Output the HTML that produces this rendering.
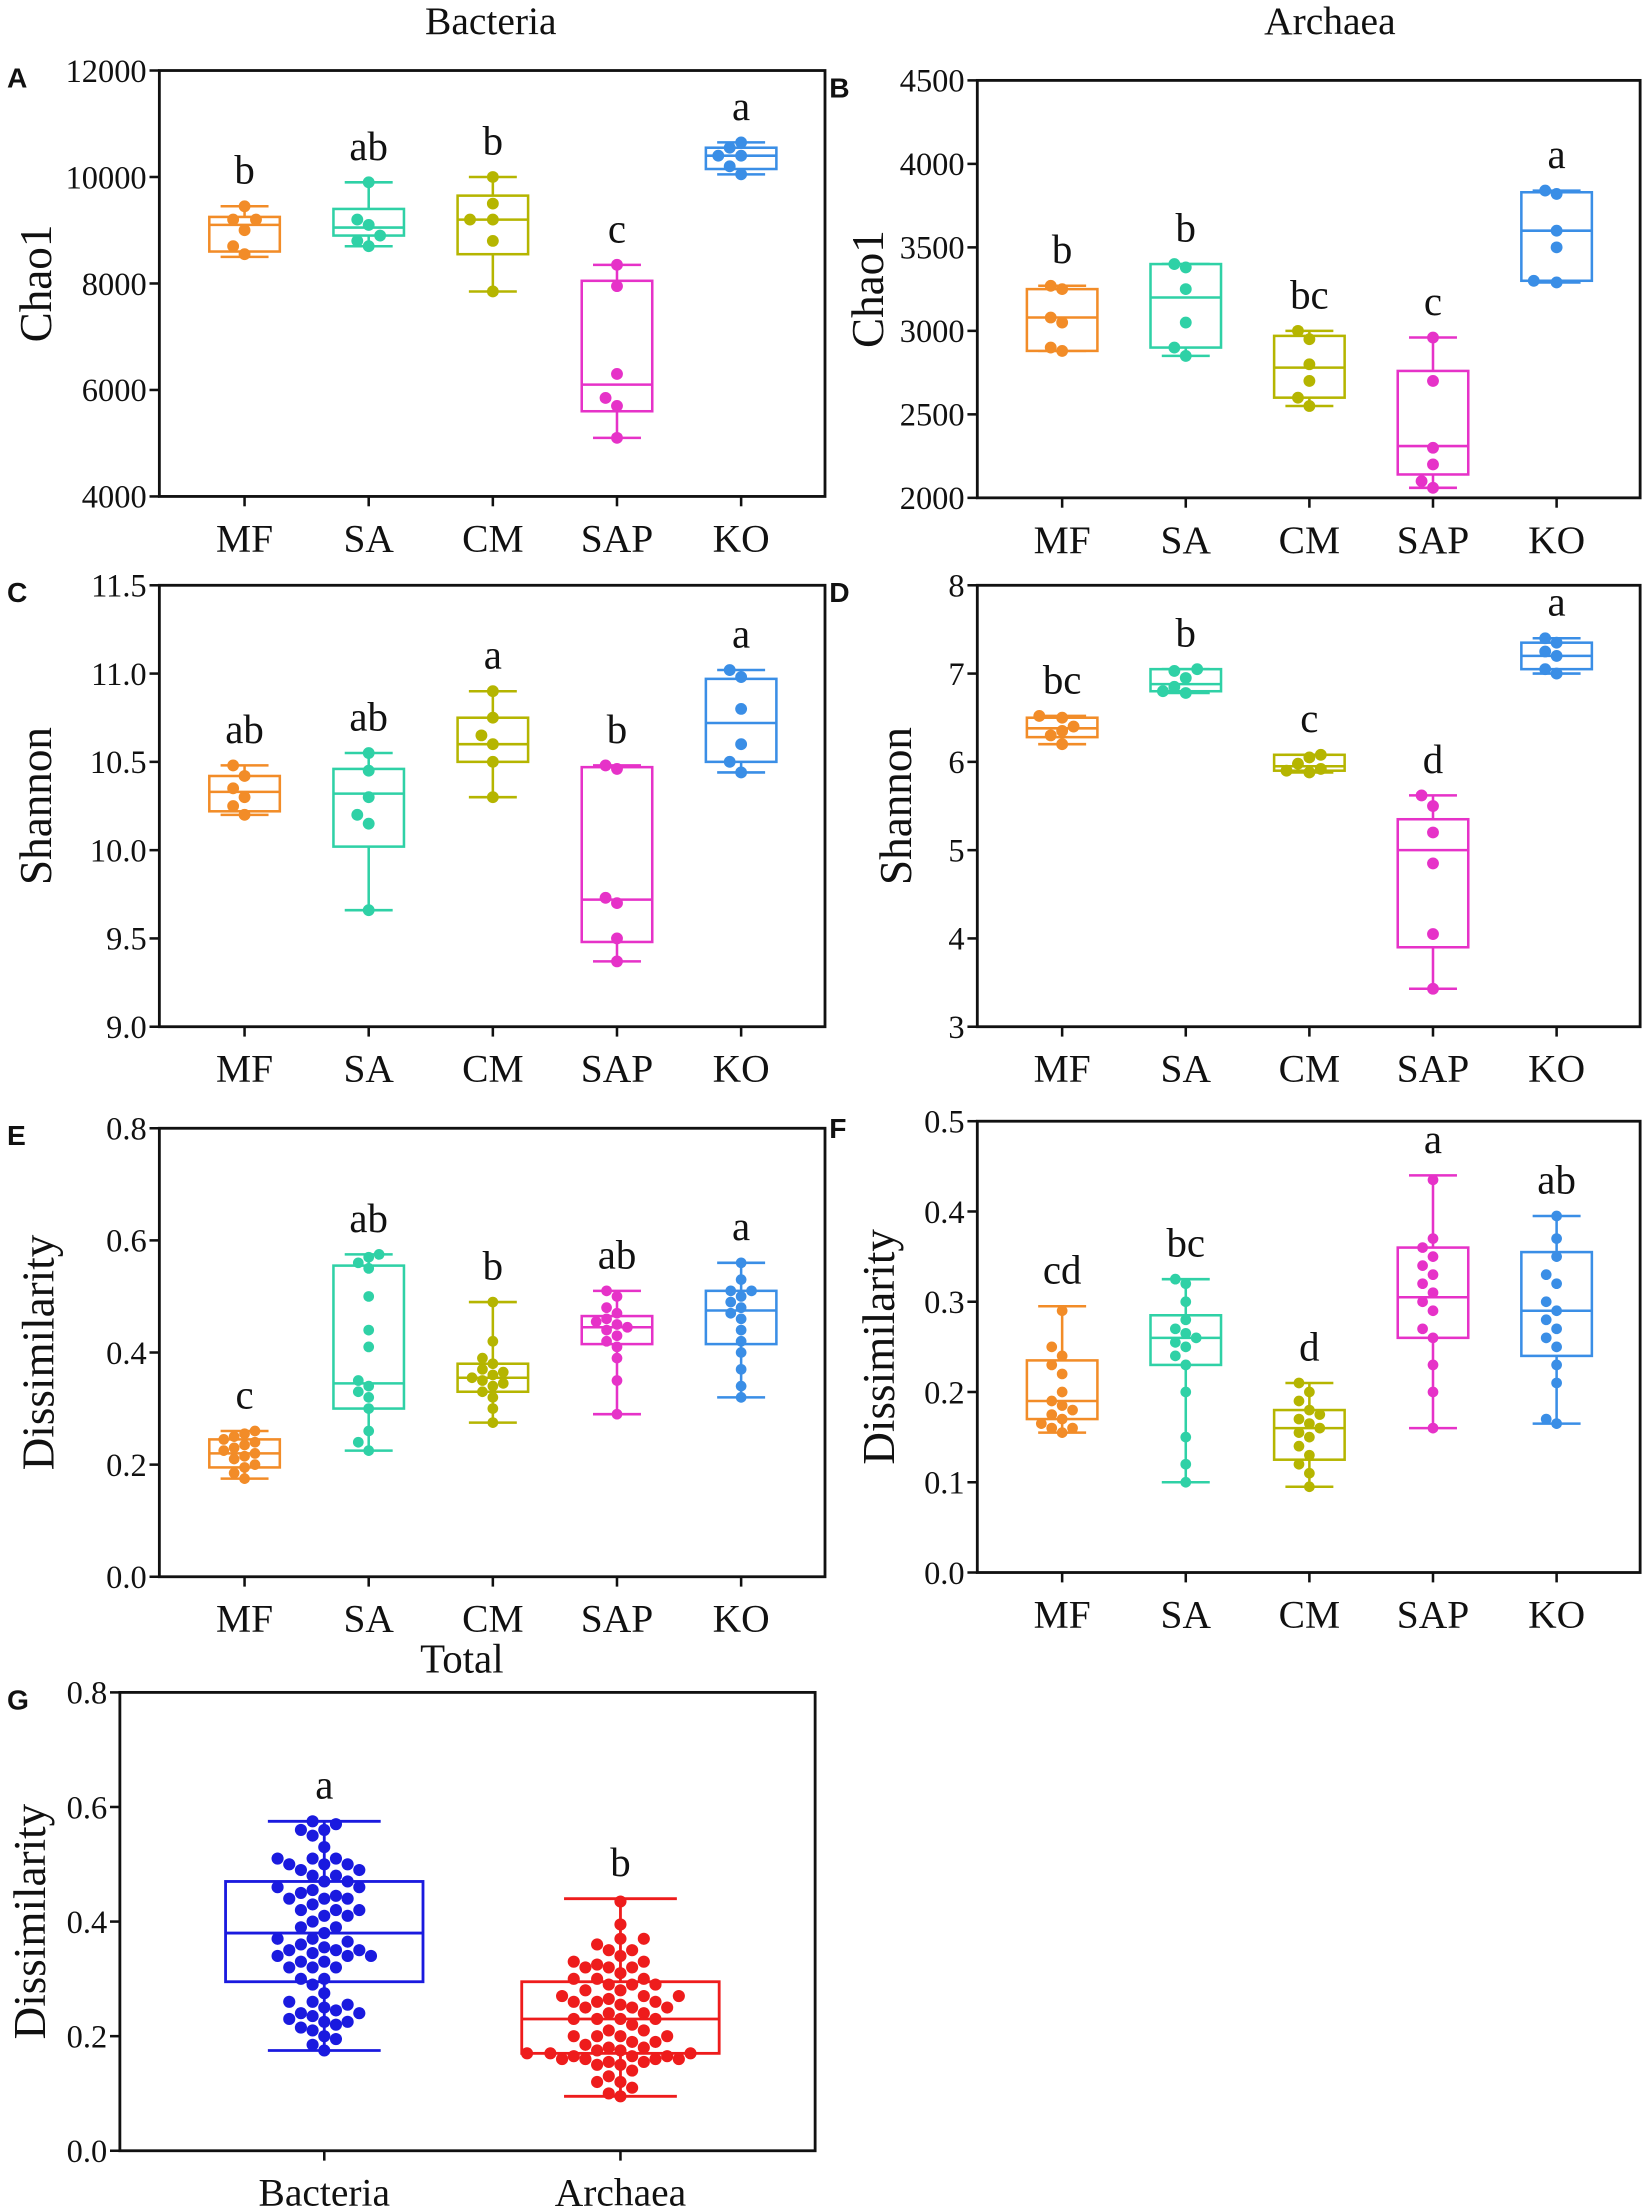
<!DOCTYPE html>
<html><head><meta charset="utf-8">
<style>
html,body{margin:0;padding:0;background:#fff;}
svg{display:block;}
text{font-family:"Liberation Serif",serif;fill:#111;}
.lbl{font-family:"Liberation Sans",sans-serif;font-weight:bold;}
</style></head>
<body>
<svg id="fig" width="1650" height="2209" viewBox="0 0 1170 1566.3" preserveAspectRatio="none" xmlns="http://www.w3.org/2000/svg">
<text x="348" y="24" font-size="28" text-anchor="middle">Bacteria</text>
<text x="943" y="24" font-size="28" text-anchor="middle">Archaea</text>
</svg>
<script>
const categories = ["MF","SA","CM","SAP","KO"];
const colors = ["#f28c28","#2fd1a6","#b5b500","#e632c8","#3a8ee6"];

// Panel A: Chao1 bacteria  [min,q1,med,q3,max]
const aBoxes = [[8500,8600,9100,9250,9450],[8700,8900,9050,9400,9900],[7850,8550,9200,9650,10000],[5100,5600,6100,8050,8350],[10050,10150,10400,10550,10650]];
const aPoints = [[9450,9200,9200,9000,8700,8550],[9900,9200,9100,8900,8800,8700],[10000,9500,9200,9200,8800,7850],[8350,7950,6300,5850,5700,5100],[10650,10550,10400,10400,10200,10050]];
const aLetters = ["b","ab","b","c","a"];
const aTicks = [4000,6000,8000,10000,12000];

// Panel B: Chao1 archaea
const bBoxes = [[2880,2880,3080,3250,3270],[2850,2900,3200,3400,3400],[2550,2600,2780,2970,3000],[2060,2140,2310,2760,2960],[3290,3300,3600,3830,3840]];
const bPoints = [[3270,3250,3080,3050,2900,2880],[3400,3380,3250,3050,2900,2850],[3000,2950,2800,2700,2600,2550],[2960,2700,2300,2200,2100,2060],[3840,3820,3600,3500,3300,3290]];
const bLetters = ["b","b","bc","c","a"];
const bTicks = [2000,2500,3000,3500,4000,4500];

// Panel C: Shannon bacteria
const cBoxes = [[10.2,10.22,10.33,10.42,10.48],[9.66,10.02,10.32,10.46,10.55],[10.3,10.5,10.6,10.75,10.9],[9.37,9.48,9.72,10.47,10.48],[10.44,10.5,10.72,10.97,11.02]];
const cPoints = [[10.48,10.42,10.35,10.3,10.25,10.2],[10.55,10.45,10.3,10.2,10.15,9.66],[10.9,10.75,10.65,10.6,10.5,10.3],[10.48,10.46,9.73,9.7,9.5,9.37],[11.02,10.98,10.8,10.6,10.5,10.44]];
const cLetters = ["ab","ab","a","b","a"];
const cTicks = [9.0,9.5,10.0,10.5,11.0,11.5];

// Panel D: Shannon archaea
const dBoxes = [[6.2,6.28,6.38,6.5,6.52],[6.78,6.8,6.88,7.05,7.05],[5.88,5.9,5.95,6.08,6.08],[3.43,3.9,5.0,5.35,5.62],[7.0,7.05,7.2,7.35,7.4]];
const dPoints = [[6.52,6.5,6.4,6.35,6.3,6.2],[7.05,7.03,6.95,6.85,6.8,6.78],[6.08,6.05,5.98,5.92,5.9,5.88],[5.62,5.5,5.2,4.85,4.05,3.43],[7.4,7.35,7.25,7.2,7.05,7.0]];
const dLetters = ["bc","b","c","d","a"];
const dTicks = [3,4,5,6,7,8];

// Panel E: Dissimilarity bacteria
const eBoxes = [[0.175,0.195,0.22,0.245,0.26],[0.225,0.3,0.345,0.555,0.575],[0.275,0.33,0.355,0.38,0.49],[0.29,0.415,0.445,0.465,0.51],[0.32,0.415,0.475,0.51,0.56]];
const ePoints = [[0.26,0.255,0.25,0.245,0.24,0.235,0.23,0.225,0.22,0.215,0.21,0.2,0.195,0.185,0.175],[0.575,0.57,0.56,0.55,0.5,0.44,0.41,0.35,0.34,0.33,0.32,0.3,0.26,0.24,0.225],[0.49,0.42,0.39,0.38,0.37,0.365,0.36,0.355,0.35,0.345,0.34,0.33,0.32,0.3,0.275],[0.51,0.5,0.48,0.47,0.46,0.455,0.45,0.445,0.44,0.43,0.42,0.41,0.39,0.35,0.29],[0.56,0.53,0.51,0.51,0.5,0.49,0.48,0.47,0.46,0.44,0.42,0.4,0.37,0.34,0.32]];
const eLetters = ["c","ab","b","ab","a"];
const eTicks = [0.0,0.2,0.4,0.6,0.8];

// Panel F: Dissimilarity archaea
const fBoxes = [[0.155,0.17,0.19,0.235,0.295],[0.1,0.23,0.26,0.285,0.325],[0.095,0.125,0.16,0.18,0.21],[0.16,0.26,0.305,0.36,0.44],[0.165,0.24,0.29,0.355,0.395]];
const fPoints = [[0.29,0.25,0.24,0.23,0.22,0.2,0.19,0.185,0.18,0.175,0.17,0.165,0.16,0.16,0.155],[0.325,0.32,0.3,0.28,0.27,0.265,0.26,0.255,0.25,0.24,0.23,0.2,0.15,0.12,0.1],[0.21,0.2,0.19,0.18,0.175,0.17,0.165,0.16,0.155,0.15,0.14,0.13,0.12,0.11,0.095],[0.435,0.37,0.36,0.35,0.34,0.33,0.32,0.31,0.3,0.29,0.27,0.26,0.23,0.2,0.16],[0.395,0.37,0.35,0.33,0.32,0.3,0.29,0.28,0.27,0.26,0.25,0.23,0.21,0.17,0.165]];
const fLetters = ["cd","bc","d","a","ab"];
const fTicks = [0.0,0.1,0.2,0.3,0.4,0.5];

// Panel G: Total
const gCategories = ["Bacteria","Archaea"];
const gColors = ["#1a1adf","#ee1c1c"];
const gBoxes = [[0.175,0.295,0.38,0.47,0.575],[0.095,0.17,0.23,0.295,0.44]];
const gPoints = [[].concat(...ePoints),[].concat(...fPoints)];
const gLetters = ["a","b"];
const gTicks = [0.0,0.2,0.4,0.6,0.8];

const NS = "http://www.w3.org/2000/svg";
const svg = document.getElementById("fig");
function mk(tag, attrs, parent){
  const e = document.createElementNS(NS, tag);
  for (const k in attrs) e.setAttribute(k, attrs[k]);
  (parent||svg).appendChild(e);
  return e;
}

function panel(cfg){
  const g = mk("g", {});
  
  
  const {x,y,w,h} = cfg.frame;
  const lo = cfg.ticks[0], hi = cfg.ticks[cfg.ticks.length-1];
  const sy = v => y + h - (v - lo) / (hi - lo) * h;
  const sx = i => x + w * cfg.pos[i];

  const lab = mk("text", {x: cfg.labX, y: y + 12, "font-size": 20, class: "lbl"}, g);
  lab.textContent = cfg.id;
  
  

  if (cfg.title){
    const t = mk("text", {x: x + w/2 + cfg.titleDx, y: y - 14, "font-size": 29, "text-anchor": "middle"}, g);
    t.textContent = cfg.title;
    
    
  }

  cfg.ticks.forEach(v => {
    const ty = sy(v);
    const tk = mk("line", {x1: x-7, x2: x, y1: ty, y2: ty, stroke: "#111", "stroke-width": 1.8}, g);
    
    
    const tl = mk("text", {x: x-9, y: ty+8, "font-size": 23, "text-anchor": "end"}, g);
    tl.textContent = v.toFixed(cfg.dec);
    
    
  });
  const yt = mk("text", {x: 0, y: 0, "font-size": 32, "text-anchor": "middle",
    transform: `translate(${cfg.yTitleX},${y + h/2}) rotate(-90)`}, g);
  yt.textContent = cfg.yTitle;
  
  

  cfg.cats.forEach((c,i) => {
    const cx = sx(i);
    const tk = mk("line", {x1: cx, x2: cx, y1: y+h, y2: y+h+7, stroke: "#111", "stroke-width": 1.8}, g);
    
    
    const tl = mk("text", {x: cx, y: y+h+39, "font-size": 28, "text-anchor": "middle"}, g);
    tl.textContent = c;
    
    
  });

  cfg.boxes.forEach((b,i) => {
    const col = cfg.colors[i], cx = sx(i), bw = cfg.boxW, cw = cfg.capW;
    const grp = mk("g", {stroke: col, "stroke-width": cfg.sw, fill: "none"}, g);
    
    
    mk("line", {x1: cx, x2: cx, y1: sy(b[0]), y2: sy(b[4])}, grp);
    mk("line", {x1: cx-cw/2, x2: cx+cw/2, y1: sy(b[0]), y2: sy(b[0])}, grp);
    mk("line", {x1: cx-cw/2, x2: cx+cw/2, y1: sy(b[4]), y2: sy(b[4])}, grp);
    mk("rect", {x: cx-bw/2, y: sy(b[3]), width: bw, height: sy(b[1]) - sy(b[3]), fill: "#fff"}, grp);
    mk("line", {x1: cx-bw/2, x2: cx+bw/2, y1: sy(b[2]), y2: sy(b[2])}, grp);

    const pts = cfg.points[i].slice().sort((a,b)=>a-b);
    const placed = [];
    const r = cfg.r, d = 2*r + 0.6;
    pts.forEach(v => {
      const py = sy(v);
      let k = 0, px = cx;
      while (true){
        const off = k===0 ? 0 : Math.ceil(k/2) * d * (k%2 ? -1 : 1) * 0.9;
        px = cx + off;
        if (!placed.some(p => (p[0]-px)**2 + (p[1]-py)**2 < d*d*0.85)) break;
        k++;
      }
      placed.push([px,py]);
      const dot = mk("circle", {cx: px, cy: py, r: r, fill: col}, g);
      
      
    });

    const lt = mk("text", {x: cx, y: sy(b[4]) - 16, "font-size": 29, "text-anchor": "middle"}, g);
    lt.textContent = cfg.letters[i];
    
    
  });

  const fr = mk("rect", {x: x, y: y, width: w, height: h, fill: "none", stroke: "#111", "stroke-width": 2}, g);
  
  
}

const pos5 = [0.128,0.3145,0.501,0.6875,0.874];
const common = {cats: categories, colors: colors, pos: pos5, boxW: 50, capW: 34, sw: 1.8, titleDx: 0};
panel(Object.assign({}, common, {id:"A", frame:{x:113,y:50,w:472,h:302}, ticks:aTicks, dec:0, boxes:aBoxes, points:aPoints, letters:aLetters, yTitle:"Chao1", yTitleX:36, labX:5, r:4.2}));
panel(Object.assign({}, common, {id:"B", frame:{x:693,y:57,w:470,h:296}, ticks:bTicks, dec:0, boxes:bBoxes, points:bPoints, letters:bLetters, yTitle:"Chao1", yTitleX:626, labX:588, r:4.2}));
panel(Object.assign({}, common, {id:"C", frame:{x:113,y:415,w:472,h:313}, ticks:cTicks, dec:1, boxes:cBoxes, points:cPoints, letters:cLetters, yTitle:"Shannon", yTitleX:36, labX:5, r:4.2}));
panel(Object.assign({}, common, {id:"D", frame:{x:693,y:415,w:470,h:313}, ticks:dTicks, dec:0, boxes:dBoxes, points:dPoints, letters:dLetters, yTitle:"Shannon", yTitleX:646, labX:588, r:4.2}));
panel(Object.assign({}, common, {id:"E", frame:{x:113,y:800,w:472,h:318}, ticks:eTicks, dec:1, boxes:eBoxes, points:ePoints, letters:eLetters, yTitle:"Dissimilarity", yTitleX:38, labX:5, r:3.8}));
panel(Object.assign({}, common, {id:"F", frame:{x:693,y:795,w:470,h:320}, ticks:fTicks, dec:1, boxes:fBoxes, points:fPoints, letters:fLetters, yTitle:"Dissimilarity", yTitleX:634, labX:588, r:3.8}));
panel({id:"G", title:"Total", titleDx:-4, frame:{x:85,y:1200,w:493,h:325}, ticks:gTicks, dec:1, cats:gCategories, colors:gColors, pos:[0.294,0.72],
  boxW:140, capW:80, sw:2, boxes:gBoxes, points:gPoints, letters:gLetters, yTitle:"Dissimilarity", yTitleX:32, labX:5, r:4.3});
</script>
</body></html>
